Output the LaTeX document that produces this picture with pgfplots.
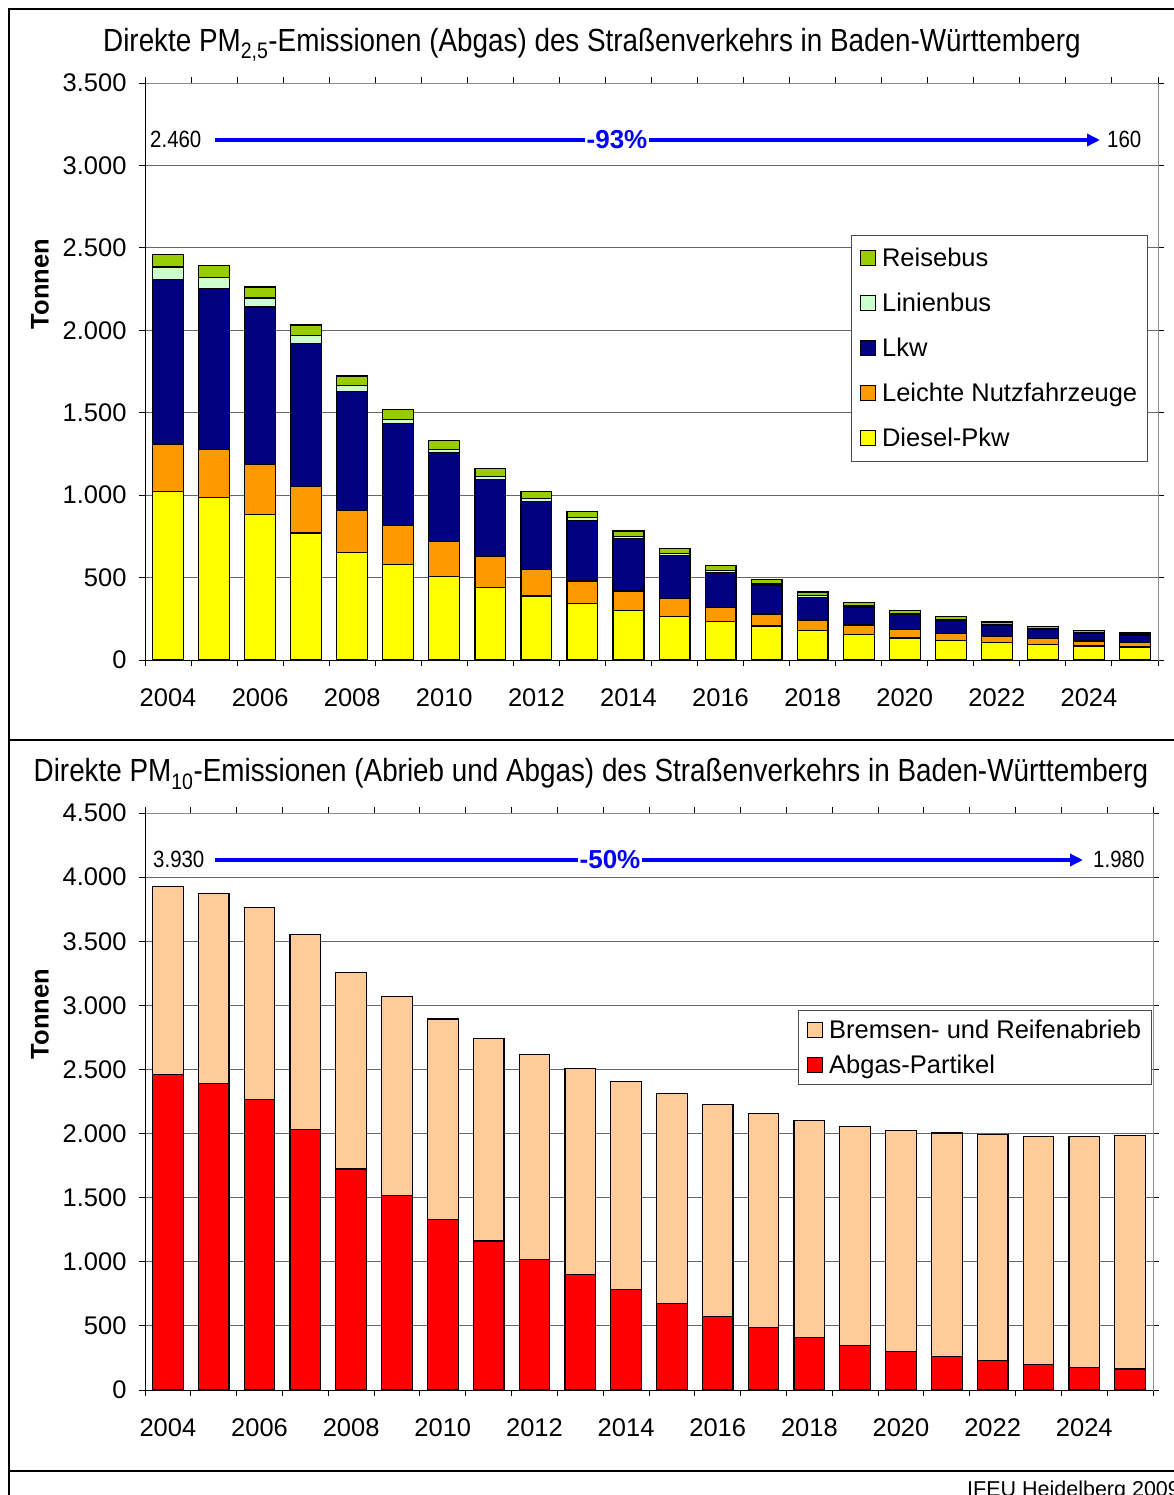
\documentclass[border=0pt]{standalone}
\usepackage{fontspec}
\setmainfont{Liberation Sans}
\newfontfamily\narrow[FakeStretch=0.87]{Liberation Sans}
\usepackage{pgfplots}
\pgfplotsset{compat=1.18}
\usepackage{pgfplotstable}
\usetikzlibrary{arrows.meta}

\definecolor{reise}{RGB}{153,204,0}
\definecolor{linien}{RGB}{204,255,204}
\definecolor{lkw}{RGB}{0,0,128}
\definecolor{lnf}{RGB}{255,153,0}
\definecolor{diesel}{RGB}{255,255,0}
\definecolor{abrieb}{RGB}{255,204,153}
\definecolor{abgas}{RGB}{255,0,0}
\definecolor{arrowblue}{RGB}{0,0,255}

\pgfplotstableread{
x diesel lnf lkw lin reise
0 1022 285 1000 77 76
1 984 293 978 64 73
2 885 299 957 55 67
3 770 283 868 47 64
4 653 254 721 35 60
5 578 240 618 25 58
6 505 216 538 20 52
7 442 188 467 14 51
8 388 162 410 18 42
9 341 138 369 15 36
10 299 119 317 16 31
11 265 109 260 14 29
12 232 87 212 14 27
13 206 73 176 10 24
14 178 64 138 12 20
15 156 56 109 8 18
16 133 51 91 8 16
17 119 43 78 6 17
18 105 40 63 8 14
19 95 34 55 6 12
20 85 30 47 6 10
21 79 28 40 9 8
}\pmtwo

\pgfplotstableread{
x abgas abrieb
0 2460 1465
1 2392 1481
2 2263 1501
3 2032 1522
4 1723 1536
5 1519 1551
6 1331 1563
7 1162 1579
8 1020 1594
9 899 1611
10 782 1624
11 677 1638
12 572 1655
13 489 1670
14 412 1687
15 347 1708
16 299 1724
17 263 1742
18 230 1760
19 202 1777
20 178 1801
21 164 1818
}\pmten

\pgfplotsset{
 emis/.style={
  scale only axis, height=577pt,
  ybar stacked, bar width=0.67,
  xmin=-0.5, xmax=21.5, ymin=0,
  xtick={-0.5,0.5,...,21.5}, xticklabels={},
  extra x ticks={0,2,4,6,8,10,12,14,16,18,20},
  extra x tick labels={2004,2006,2008,2010,2012,2014,2016,2018,2020,2022,2024},
  extra x tick style={grid=none, tick style={draw=none}},
  tick align=outside, major tick length=6pt,
  tick style={black, line width=1pt},
  ymajorgrids, grid style={black!60, line width=1pt},
  axis line style={black!45, line width=1pt},
  ticklabel style={font=\fontsize{25.5}{29}\selectfont},
  /pgf/number format/assume math mode=true,
  /pgf/number format/1000 sep={.},
  yticklabel style={xshift=-9pt},
  xticklabel style={yshift=-19pt},
  area legend,
  legend image code/.code={\path[draw=none,fill=none] (0pt,0pt) -- (20pt,0pt); \draw[#1,draw=black,line width=1pt] (0pt,-7.5pt) rectangle (15pt,7.5pt);},
  legend style={font=\fontsize{25.5}{29}\selectfont, draw=black!70, line width=1pt,
    legend cell align=left, inner xsep=8pt},
  every axis plot/.append style={draw=black, line width=1.2pt},
 }
}

\begin{document}
\begin{tikzpicture}[x=1pt,y=1pt]
\useasboundingbox (0,0) rectangle (1173,-1495);
% frame
\draw[line width=2pt] (9,-1495) -- (9,-9) -- (1180,-9);
\draw[line width=2.5pt] (9,-740) -- (1180,-740);
\draw[line width=2.5pt] (9,-1471) -- (1180,-1471);

% titles
\node[font=\narrow\fontsize{32}{36}\selectfont] at (592,-45) {Direkte PM\textsubscript{2,5}-Emissionen (Abgas) des Straßenverkehrs in Baden-Württemberg};
\node[font=\narrow\fontsize{32}{36}\selectfont] at (591,-774) {Direkte PM\textsubscript{10}-Emissionen (Abrieb und Abgas) des Straßenverkehrs in Baden-Württemberg};

\node[rotate=90, font=\bfseries\fontsize{25.5}{29}\selectfont] at (40,-284) {Tonnen};
\node[rotate=90, font=\bfseries\fontsize{25.5}{29}\selectfont] at (40,-1014) {Tonnen};

% top axis
\begin{axis}[emis, width=1013pt, at={(145pt,-660pt)}, anchor=south west,
  ymax=3500, ytick={0,500,...,3500},
  reverse legend,
  legend style={at={(0.697,0.7366)}, anchor=north west, row sep=21pt, inner ysep=11pt}]
\addplot[fill=diesel] table[x=x,y=diesel] {\pmtwo};
\addplot[fill=lnf] table[x=x,y=lnf] {\pmtwo};
\addplot[fill=lkw] table[x=x,y=lkw] {\pmtwo};
\addplot[fill=linien] table[x=x,y=lin] {\pmtwo};
\addplot[fill=reise] table[x=x,y=reise] {\pmtwo};
\legend{Diesel-Pkw,Leichte Nutzfahrzeuge,Lkw,Linienbus,Reisebus}
\draw[black, line width=1pt] (rel axis cs:0,1) -- (rel axis cs:0,0) -- (rel axis cs:1,0);
\end{axis}

% bottom axis
\begin{axis}[emis, width=1008pt, at={(145pt,-1390pt)}, anchor=south west,
  ymax=4500, ytick={0,500,...,4500},
  reverse legend,
  legend style={at={(0.648,0.6586)}, anchor=north west, row sep=10.5pt, inner ysep=8pt}]
\addplot[fill=abgas] table[x=x,y=abgas] {\pmten};
\addplot[fill=abrieb] table[x=x,y=abrieb] {\pmten};
\legend{Abgas-Partikel,Bremsen- und Reifenabrieb}
\draw[black, line width=1pt] (rel axis cs:0,1) -- (rel axis cs:0,0) -- (rel axis cs:1,0);
\end{axis}

% arrows
\draw[arrowblue, line width=4pt, -{Triangle[length=13pt,width=12pt]}] (215,-140) -- (1100,-140);
\node[fill=white, text=arrowblue, font=\bfseries\fontsize{26}{30}\selectfont, inner sep=2pt] at (617,-140) {-93\%};
\node[anchor=west, font=\narrow\fontsize{23.5}{27}\selectfont, inner sep=0pt] at (150,-139) {2.460};
\node[anchor=west, font=\narrow\fontsize{23.5}{27}\selectfont, inner sep=0pt] at (1107,-139) {160};

\draw[arrowblue, line width=4pt, -{Triangle[length=13pt,width=12pt]}] (215,-860) -- (1083,-860);
\node[fill=white, text=arrowblue, font=\bfseries\fontsize{26}{30}\selectfont, inner sep=2pt] at (610,-860) {-50\%};
\node[anchor=west, font=\narrow\fontsize{23.5}{27}\selectfont, inner sep=0pt] at (153,-859) {3.930};
\node[anchor=west, font=\narrow\fontsize{23.5}{27}\selectfont, inner sep=0pt] at (1093,-859) {1.980};

\node[anchor=base west, font=\fontsize{21.5}{24}\selectfont, inner sep=0pt] at (967,-1496) {IFEU Heidelberg 2009};
\end{tikzpicture}
\end{document}
